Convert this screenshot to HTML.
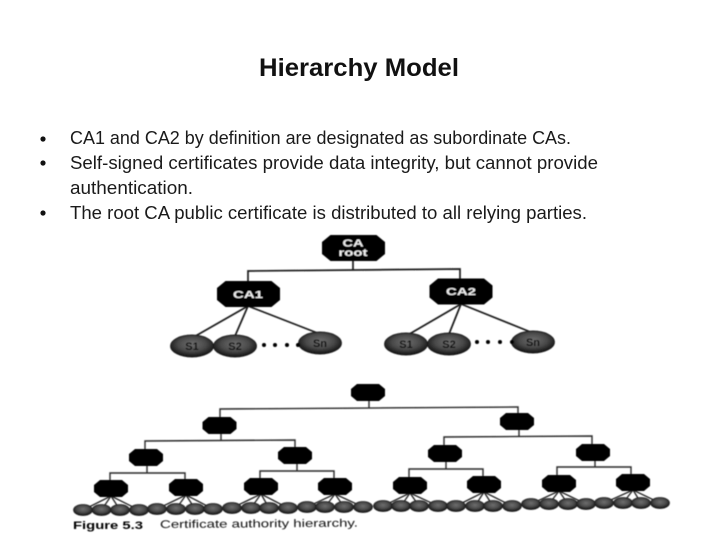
<!DOCTYPE html>
<html><head><meta charset="utf-8"><style>
html,body{margin:0;padding:0;background:#fff;width:720px;height:540px;overflow:hidden}
svg{display:block;font-family:"Liberation Sans",sans-serif}
</style></head><body>
<svg width="720" height="540" viewBox="0 0 720 540" xmlns="http://www.w3.org/2000/svg">
<defs>
<radialGradient id="g" cx="50%" cy="42%" r="58%"><stop offset="0" stop-color="#6e6e6e"/><stop offset=".55" stop-color="#4a4a4a"/><stop offset="1" stop-color="#101010"/></radialGradient>
<polygon id="oc" points="-11,-8.500 11,-8.500 17,-3.500 17,3.500 11,8.500 -11,8.500 -17,3.500 -17,-3.500" fill="#000"/>
<polygon id="O" points="-23,-13 23,-13 31.500,-6 31.500,6 23,13 -23,13 -31.500,6 -31.500,-6" fill="#000"/>
<ellipse id="l" rx="9.500" ry="5.500" fill="url(#g)" stroke="#1a1a1a" stroke-width=".7"/>
<ellipse id="s" rx="21.500" ry="11" fill="url(#g)" stroke="#1a1a1a" stroke-width=".9"/>
<filter id="b" x="-5%" y="-5%" width="110%" height="110%"><feGaussianBlur stdDeviation="0.45"/></filter>
</defs>

<text x="259" y="76" font-size="25" font-weight="bold" fill="#111" textLength="200" lengthAdjust="spacingAndGlyphs">Hierarchy Model</text>

<g fill="#111"><circle cx="43" cy="139" r="2.600"/><circle cx="43" cy="163" r="2.600"/><circle cx="43" cy="213" r="2.600"/></g>
<g font-size="18" fill="#1a1a1a">
<text x="70" y="144" textLength="501" lengthAdjust="spacingAndGlyphs">CA1 and CA2 by definition are designated as subordinate CAs.</text>
<text x="70" y="169" textLength="528" lengthAdjust="spacingAndGlyphs">Self-signed certificates provide data integrity, but cannot provide</text>
<text x="70" y="194" textLength="123" lengthAdjust="spacingAndGlyphs">authentication.</text>
<text x="70" y="219" textLength="517" lengthAdjust="spacingAndGlyphs">The root CA public certificate is distributed to all relying parties.</text>
</g>

<g filter="url(#b)">
<!-- Upper tree -->
<g stroke="#1a1a1a" stroke-width="1.700" fill="none">
<path d="M353 260V270M248 285V271L460 269V282"/>
<path d="M248 306L192 338M248 306L235 336M248 306L320 334"/>
<path d="M461 304L406 336M461 304L449 334M461 304L533 333"/>
</g>
<use href="#O" x="353.500" y="248"/>
<use href="#O" x="248.500" y="294"/>
<use href="#O" x="461" y="291.500"/>
<g fill="#f2f2f2" font-weight="bold" font-size="10.500" text-anchor="middle">
<text x="353" y="246.500" textLength="21" lengthAdjust="spacingAndGlyphs">CA</text>
<text x="353" y="256" textLength="29" lengthAdjust="spacingAndGlyphs">root</text>
<text x="248" y="298" textLength="30" lengthAdjust="spacingAndGlyphs">CA1</text>
<text x="461" y="295" textLength="30" lengthAdjust="spacingAndGlyphs">CA2</text>
</g>
<use href="#s" x="192" y="346"/><use href="#s" x="235" y="346"/><use href="#s" x="320" y="343"/>
<use href="#s" x="406" y="344"/><use href="#s" x="449" y="344"/><use href="#s" x="533" y="342"/>
<g fill="#0c0c0c" font-weight="bold" font-size="11" text-anchor="middle">
<text x="192" y="350">S1</text><text x="235" y="350">S2</text><text x="320" y="347">Sn</text>
<text x="406" y="348">S1</text><text x="449" y="348">S2</text><text x="533" y="346">Sn</text>
</g>
<g fill="#000">
<circle cx="264" cy="345" r="2"/><circle cx="275" cy="345" r="2"/><circle cx="287" cy="345" r="2"/><circle cx="298" cy="345" r="2"/>
<circle cx="477" cy="342" r="2"/><circle cx="488" cy="342" r="2"/><circle cx="500" cy="342" r="2"/><circle cx="512" cy="342" r="2"/>
</g>

<!-- Lower tree connectors -->
<g stroke="#2a2a2a" stroke-width="1.400" fill="none">
<path d="M369 400V408M220 418V409L518 407V414"/>
<path d="M221 433V441M145 450V441L295 440V448"/>
<path d="M519 429V437M444 446V437L592 436V445"/>
<path d="M147 465V473M110 481V473H185V480"/>
<path d="M297 463V471M260 479V471H334V479"/>
<path d="M446 461V469M409 478V469H483V477"/>
<path d="M595 460V467M557 476V467H631V475"/>
<path d="M111 496L83 510M111 496L101.500 510M111 496L120 510M111 496L139 510"/>
<path d="M186 495L157 509M186 495L176 509M186 495L195 509M186 495L213 509"/>
<path d="M261 494L232 508M261 494L251 508M261 494L269 508M261 494L288 508"/>
<path d="M335 494L307 507M335 494L325 507M335 494L344 507M335 494L363 507"/>
<path d="M410 493L383 506M410 493L401 506M410 493L419 506M410 493L438 506"/>
<path d="M484 492L456 506M484 492L475 506M484 492L493 506M484 492L512 506"/>
<path d="M559 491L531 504M559 491L549 504M559 491L568 504M559 491L586 504"/>
<path d="M633 490L604 503M633 490L623 503M633 490L641 503M633 490L660 503"/>
</g>

<!-- Lower tree nodes -->
<use href="#oc" x="368" y="392.500"/>
<use href="#oc" x="219.500" y="425.500"/><use href="#oc" x="517" y="421.500"/>
<use href="#oc" x="146" y="457.500"/><use href="#oc" x="295" y="455.500"/>
<use href="#oc" x="445" y="453.500"/><use href="#oc" x="593" y="452.500"/>
<use href="#oc" x="111" y="488.500"/><use href="#oc" x="186" y="487.500"/>
<use href="#oc" x="261" y="486.500"/><use href="#oc" x="335" y="486.500"/>
<use href="#oc" x="410" y="485.500"/><use href="#oc" x="484" y="484.500"/>
<use href="#oc" x="559" y="483.500"/><use href="#oc" x="633" y="482.500"/>

<!-- Lower tree leaves -->
<use href="#l" x="83" y="510"/><use href="#l" x="101.500" y="510"/><use href="#l" x="120" y="510"/><use href="#l" x="139" y="510"/>
<use href="#l" x="157" y="509"/><use href="#l" x="176" y="509"/><use href="#l" x="195" y="509"/><use href="#l" x="213" y="509"/>
<use href="#l" x="232" y="508"/><use href="#l" x="251" y="508"/><use href="#l" x="269" y="508"/><use href="#l" x="288" y="508"/>
<use href="#l" x="307" y="507"/><use href="#l" x="325" y="507"/><use href="#l" x="344" y="507"/><use href="#l" x="363" y="507"/>
<use href="#l" x="383" y="506"/><use href="#l" x="401" y="506"/><use href="#l" x="419" y="506"/><use href="#l" x="438" y="506"/>
<use href="#l" x="456" y="506"/><use href="#l" x="475" y="506"/><use href="#l" x="493" y="506"/><use href="#l" x="512" y="506"/>
<use href="#l" x="531" y="504"/><use href="#l" x="549" y="504"/><use href="#l" x="568" y="504"/><use href="#l" x="586" y="504"/>
<use href="#l" x="604" y="503"/><use href="#l" x="623" y="503"/><use href="#l" x="641" y="503"/><use href="#l" x="660" y="503"/>

<text x="73" y="529" font-size="11" font-weight="bold" fill="#000" textLength="70" lengthAdjust="spacingAndGlyphs">Figure 5.3</text>
<text x="160" y="528" font-size="11" fill="#111" textLength="198" lengthAdjust="spacingAndGlyphs" transform="rotate(-0.4 160 528)">Certificate authority hierarchy.</text>
</g>
</svg>
</body></html>
